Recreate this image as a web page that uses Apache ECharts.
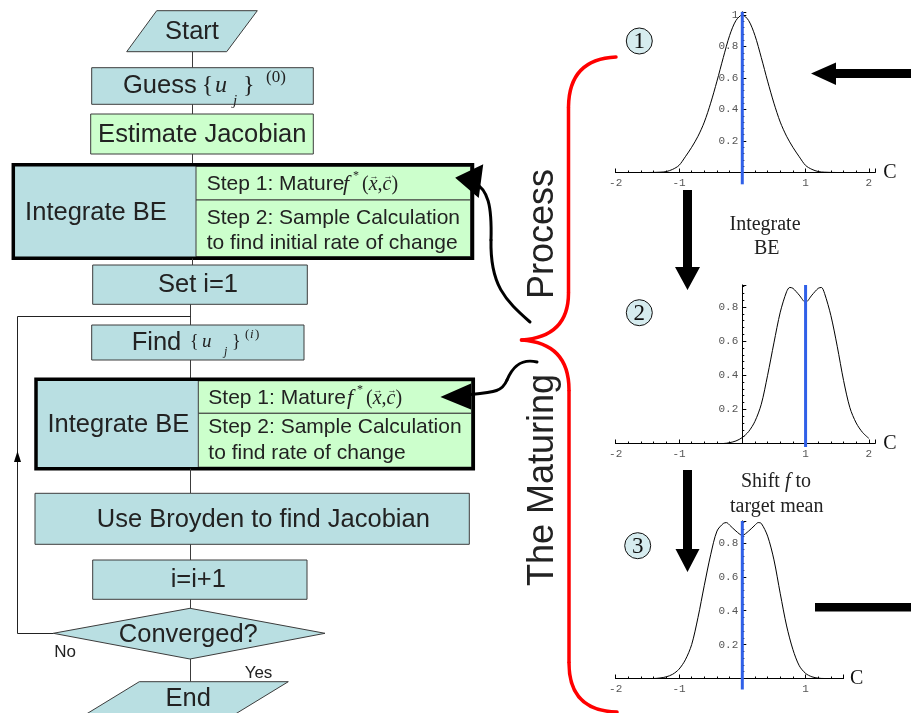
<!DOCTYPE html>
<html><head><meta charset="utf-8">
<script src="https://cdn.jsdelivr.net/npm/echarts@6/dist/echarts.min.js"></script>
<style>html,body{margin:0;padding:0;background:#fff}#c{width:911px;height:713px}</style>
</head><body><div id="c"></div>
<script>
// ---------- data: the three density snapshots ----------
const c1 = [-2.1,-1.5,-1.3,-1.2,-1.1,-1.0,-0.9,-0.8,-0.7,-0.6,-0.5,-0.4,-0.3,-0.2,-0.1,0,0.1,0.2,0.3,0.4,0.5,0.6,0.7,0.8,0.9,1.0,1.1,1.2,1.3,1.5,2.1];
const f1 = [0,0,0.002,0.006,0.02,0.045,0.10,0.16,0.23,0.32,0.44,0.58,0.73,0.87,0.965,1.0,0.965,0.87,0.73,0.58,0.44,0.32,0.23,0.16,0.10,0.045,0.02,0.006,0.002,0,0];
const c2 = [-2.1,-1.0,-0.3,-0.2,-0.1,0,0.1,0.2,0.3,0.4,0.5,0.6,0.7,0.75,0.8,0.9,1.0,1.1,1.2,1.25,1.3,1.4,1.5,1.6,1.7,1.8,1.9,2.0];
const f2 = [0,0,0,0.005,0.015,0.035,0.07,0.13,0.23,0.40,0.59,0.77,0.89,0.915,0.91,0.87,0.828,0.87,0.91,0.915,0.88,0.75,0.57,0.37,0.21,0.12,0.065,0.03];
const c3 = [-2.1,-1.4,-1.3,-1.2,-1.1,-1.0,-0.9,-0.8,-0.7,-0.6,-0.5,-0.4,-0.3,-0.25,-0.2,-0.1,0,0.1,0.2,0.25,0.3,0.4,0.5,0.6,0.7,0.8,0.9,1.0,1.1,1.2,1.3,1.6];
const f3 = [0,0,0.003,0.01,0.025,0.055,0.11,0.2,0.36,0.55,0.73,0.87,0.915,0.92,0.905,0.87,0.845,0.87,0.905,0.92,0.915,0.84,0.70,0.50,0.31,0.17,0.075,0.03,0.01,0.002,0,0];
const means = [0, 1, 0];
const meanLineLo = [-0.075, -0.02, -0.065];
const meanLineHi = [1.02, 0.93, 0.93];
const yMaxes = [1.02, 0.93, 0.93];
const xMin = -2;
const xMaxes = [2.1, 2.1, 1.6];
const axisName = 'C';

// ---------- text content ----------
const flowLabels = ['Start','Guess','Estimate Jacobian','Integrate BE','Set i=1','Find','Use Broyden to find Jacobian','i=i+1','Converged?','End'];
const stepTexts1 = ['Step 1: Mature','Step 2: Sample Calculation','to find initial rate of change'];
const stepTexts2 = ['Step 1: Mature','Step 2: Sample Calculation','to find rate of change'];
const branchLabels = ['No','Yes'];
const stageNumbers = ['1','2','3'];
const stageNotes = ['Integrate','BE','Shift','f','to','target mean'];
const sideTitle = ['The Maturing','Process'];

const sans = "'Liberation Sans', Arial, sans-serif";
const serif = "'Liberation Serif', 'Times New Roman', serif";
const mono = "'Liberation Mono', 'Courier New', monospace";
const TEAL = '#b9dfe2', GREEN = '#ccffcc', EDGE = '#3c3c3c', INK = '#222';

const mctx = document.createElement('canvas').getContext('2d');
function W(t, font){ mctx.font = font; return mctx.measureText(t).width; }

function T(x, y, text, font, o){ o = o || {}; const a = o.align || 'center';
  return {type:'text', x:x, y:y, rotation:o.rot||0, style:{text:text, font:font, fill:o.fill||INK,
    align:a, textAlign:a, verticalAlign:'middle', textVerticalAlign:'middle'}}; }
function R(x,y,w,h,fill,stroke,lw){ return {type:'rect', shape:{x:x,y:y,width:w,height:h},
    style:{fill:fill||'none', stroke:stroke||'none', lineWidth:lw||1}}; }
function P(pts, fill, stroke, lw){ return {type:'polygon', shape:{points:pts},
    style:{fill:fill||'none', stroke:stroke||'none', lineWidth:lw||1}}; }
function L(x1,y1,x2,y2,color,lw){ return {type:'line', shape:{x1:x1,y1:y1,x2:x2,y2:y2},
    style:{stroke:color||EDGE, lineWidth:lw||1}}; }
function Bz(x1,y1,cx1,cy1,cx2,cy2,x2,y2,color,lw){ const s={x1:x1,y1:y1,x2:x2,y2:y2,cpx1:cx1,cpy1:cy1};
  if (cx2 !== null) { s.cpx2 = cx2; s.cpy2 = cy2; }
  return {type:'bezierCurve', shape:s, style:{fill:'none', stroke:color, lineWidth:lw, lineCap:'round'}}; }

const g = [];
const F25 = '25.5px ' + sans, F21 = '21px ' + sans;

// Start
g.push(P([[156.7,10.7],[257.3,10.7],[226.7,51.7],[126.7,51.7]], TEAL, EDGE, 1));
g.push(T(192, 32, flowLabels[0], F25));
g.push(L(192.5,51.7,192.5,67.7));
// Guess
g.push(R(91.7,67.7,221.6,36.6,TEAL,EDGE,1));
g.push(T(123, 86, flowLabels[1], F25, {align:'left'}));
g.push(T(201.7, 86, '{', '24px '+serif, {align:'left'}));
g.push(T(215, 86, 'u', 'italic 24px '+serif, {align:'left'}));
g.push(T(233, 101, 'j', 'italic 15px '+serif, {align:'left'}));
g.push(T(243, 86, '}', '24px '+serif, {align:'left'}));
g.push(T(266, 78, '(0)', '17px '+serif, {align:'left'}));
g.push(L(192.5,104.3,192.5,114));
// Estimate Jacobian
g.push(R(90.7,114,222.6,40,GREEN,EDGE,1));
g.push(T(202.3, 134.5, flowLabels[2], F25));
g.push(L(192.5,154,192.5,164));

function mathF(x, y){ // f*(x,c) with vector arrows
  g.push(T(x, y, 'f', 'italic 22px '+serif, {align:'left'}));
  g.push(T(x+10, y-8, '*', '12px '+serif, {align:'left'}));
  let cx = x + 19;
  const parts = [['(',false],['x',true],[',',false],['c',true],[')',false]];
  parts.forEach(p => { const f = (p[1]?'italic ':'') + '20px ' + serif; const w = W(p[0], f);
    g.push(T(cx, y, p[0], f, {align:'left'}));
    if (p[0]==='x' || p[0]==='c') g.push(T(cx + w/2 + 1, y-8, '\u2192', '9px '+sans, {}));
    cx += w; });
}
function integrateBox(o){
  g.push(R(o.x, o.y, o.w, o.h, TEAL, 'none', 1));
  g.push(R(o.div, o.y+1.5, o.right-o.div, o.mid-o.y-1.5, GREEN, EDGE, 1));
  g.push(R(o.div, o.mid, o.right-o.div, o.y+o.h-o.mid-1.5, GREEN, EDGE, 1));
  g.push(R(o.x, o.y, o.w, o.h, 'none', '#000', 3.5));
  g.push(T(o.lx, o.ly, flowLabels[3], F25));
  g.push(T(o.tx, o.s1, o.texts[0], F21, {align:'left'}));
  g.push(T(o.tx, o.s2, o.texts[1], F21, {align:'left'}));
  g.push(T(o.tx, o.s3, o.texts[2], F21, {align:'left'}));
  mathF(o.fx, o.s1);
}
integrateBox({x:13.3,y:164.7,w:459.2,h:93.6,div:196,right:470.5,mid:200,lx:96,ly:213.3,tx:206.7,s1:184.3,s2:218.3,s3:243.3,fx:343,texts:stepTexts1});
g.push(L(192.5,258.5,192.5,265));
// Set i=1
g.push(R(92.7,265,214.6,39.3,TEAL,EDGE,1));
g.push(T(198, 285, flowLabels[4], F25));
g.push(L(190.5,304.3,190.5,325));
// loop back line
g.push(L(17.5,316.5,190.5,316.5,'#222',1));
g.push(L(17.5,316.5,17.5,633.5,'#222',1));
g.push(P([[17.5,451],[14,462],[21,462]], '#000', 'none', 1));
// Find
g.push(R(91.7,325,212.3,35,TEAL,EDGE,1));
g.push(T(131.7, 343.3, flowLabels[5], F25, {align:'left'}));
g.push(T(190, 342, '{', '18px '+serif, {align:'left'}));
g.push(T(202, 342, 'u', 'italic 19px '+serif, {align:'left'}));
g.push(T(224, 352, 'j', 'italic 12px '+serif, {align:'left'}));
g.push(T(232, 342, '}', '18px '+serif, {align:'left'}));
g.push(T(245, 335, '(', '13px '+serif, {align:'left'}));
g.push(T(250, 335, 'i', 'italic 13px '+serif, {align:'left'}));
g.push(T(255, 335, ')', '13px '+serif, {align:'left'}));
g.push(L(190.5,360,190.5,379));
integrateBox({x:36,y:379.3,w:437.3,h:89.4,div:198.3,right:471.7,mid:413.3,lx:118.3,ly:425,tx:208.3,s1:398.3,s2:427.7,s3:453.3,fx:347,texts:stepTexts2});
g.push(L(190.5,468.7,190.5,493.3));
// Broyden
g.push(R(35,493.3,434.3,51,TEAL,EDGE,1));
g.push(T(263.3, 520, flowLabels[6], F25));
g.push(L(190.5,544.3,190.5,560));
// i=i+1
g.push(R(92.7,560,214.3,39.3,TEAL,EDGE,1));
g.push(T(198.3, 580, flowLabels[7], F25));
g.push(L(190.5,599.3,190.5,608.3));
// Converged
g.push(P([[53.3,633.3],[190,608.3],[325,633.3],[190,659]], TEAL, EDGE, 1));
g.push(T(188.3, 635, flowLabels[8], F25));
g.push(L(17.5,633.5,53.3,633.5,'#222',1));
g.push(T(65, 652, branchLabels[0], '17px '+sans));
g.push(T(258.5, 673, branchLabels[1], '17px '+sans));
g.push(L(190.5,659,190.5,681.7));
// End
g.push(P([[139.3,681.7],[288.3,681.7],[222.3,722],[73.3,722]], TEAL, EDGE, 1));
g.push(T(188.3, 698.5, flowLabels[9], F25));

// ---------- right side annotations ----------
const circ = [[639.3,41],[639.3,312.7],[637.7,545.7]];
circ.forEach((p,i) => {
  g.push({type:'circle', shape:{cx:p[0], cy:p[1], r:13}, style:{fill:'#d6ecef', stroke:'#111', lineWidth:1}});
  g.push(T(p[0], p[1]+1, stageNumbers[i], '23px '+serif, {fill:'#111'}));
});
g.push(T(765, 225, stageNotes[0], '20px '+serif));
g.push(T(766.7, 248.5, stageNotes[1], '20px '+serif));
(function(){ const F = '20px '+serif, FI = 'italic 20px '+serif;
  const a = W(stageNotes[2]+' ', F), b = W(stageNotes[3], FI), c = W(' '+stageNotes[4], F);
  let x = 776 - (a+b+c)/2;
  g.push(T(x, 482, stageNotes[2]+' ', F, {align:'left'}));
  g.push(T(x+a, 482, stageNotes[3], FI, {align:'left'}));
  g.push(T(x+a+b, 482, ' '+stageNotes[4], F, {align:'left'}));
})();
g.push(T(776.7, 506.7, stageNotes[5], '20px '+serif));

// block arrows
g.push(P([[811,73.5],[836,62.5],[836,69],[911,69],[911,78],[836,78],[836,85]], '#000'));
g.push(R(815,603,96,8.5,'#000'));
g.push(P([[683,190],[692,190],[692,267],[700,267],[687.5,290],[675,267],[683,267]], '#000'));
g.push(P([[683,470],[692,470],[692,549],[699.5,549],[687.5,572],[675.5,549],[683,549]], '#000'));

// red brace
const RED = '#ff0000';
g.push(Bz(616,57,569,59,null,null,568.5,107,RED,3.5));
g.push(L(568.5,107,568.5,293,RED,3.5));
g.push(Bz(568.5,293,568.5,337,null,null,521.5,340,RED,3.5));
g.push(Bz(521.5,340,569,343,null,null,569,390,RED,3.5));
g.push(L(569,390,569,663,RED,3.5));
g.push(Bz(569,663,569,711,null,null,617,712,RED,3.5));

// curvy black arrows
g.push(Bz(530,322,505,300,490,285,491,240,'#000',3));
g.push(Bz(491,240,492,205,488,190,474,182,'#000',3));
g.push(P([[457,178],[482,166],[478,196]], '#000', '#000', 2));
g.push(Bz(537,362,520,358,512,368,507,380,'#000',3));
g.push(Bz(507,380,502,392,495,392,466,395,'#000',3));
g.push(P([[443,397],[470,385],[470,408]], '#000', '#000', 2));

// rotated side title
g.push(T(543, 480, sideTitle[0], '36px '+sans, {rot:Math.PI/2}));
g.push(T(543, 234, sideTitle[1], '36px '+sans, {rot:Math.PI/2}));

// ---------- plots ----------
const PX = 63.3; // pixels per unit of C
const grids = [
  {left:615.7, top:11.85, width:259.5, height:160.65},
  {left:615.7, top:284.9, width:259.5, height:158.6},
  {left:615.7, top:520.9, width:227.9, height:157.6}
];
const nameGaps = [8, 8, 6.5];
const xAxes = grids.map((gr,i) => ({
  gridIndex:i, type:'value', min:xMin, max:xMaxes[i], interval:1,
  axisLine:{onZero:true, lineStyle:{color:'#000', width:1}},
  axisTick:{inside:true, length:4, lineStyle:{color:'#000'}},
  minorTick:{show:true, splitNumber:5, length:2, lineStyle:{color:'#000'}},
  splitLine:{show:false}, minorSplitLine:{show:false},
  axisLabel:{formatter:v => (Math.abs(v-Math.round(v))<1e-6 && Math.round(v)!==0) ? String(Math.round(v)) : '',
    fontFamily:mono, fontSize:11, color:'#555', margin:5},
  name:axisName, nameLocation:'end', nameGap:nameGaps[i],
  nameTextStyle:{fontFamily:serif, fontSize:20, color:'#111', align:'left', verticalAlign:'middle'}
}));
const yAxes = grids.map((gr,i) => ({
  gridIndex:i, type:'value', min:0, max:yMaxes[i], interval:0.2,
  position:'left', offset:xMin*PX,
  axisLine:{onZero:false, lineStyle:{color:'#000', width:1}},
  axisTick:{inside:true, length:4, lineStyle:{color:'#000'}},
  minorTick:{show:true, splitNumber:5, length:2, lineStyle:{color:'#000'}},
  splitLine:{show:false}, minorSplitLine:{show:false},
  axisLabel:{formatter:v => { const k = v*5; return (Math.abs(k-Math.round(k))<1e-6 && Math.round(k)!==0) ? String(+(Math.round(k)/5).toFixed(1)) : ''; },
    fontFamily:mono, fontSize:11, color:'#555', margin:4}
}));
const curves = [[c1,f1],[c2,f2],[c3,f3]];
const series = [];
curves.forEach((cv,i) => {
  series.push({type:'line', xAxisIndex:i, yAxisIndex:i, data:cv[0].map((x,j)=>[x, cv[1][j]]),
    smooth:0.3, symbol:'none', clip:false, lineStyle:{color:'#000', width:1}, z:3});
  series.push({type:'line', xAxisIndex:i, yAxisIndex:i, data:[[means[i], meanLineLo[i]],[means[i], meanLineHi[i]]],
    symbol:'none', clip:false, lineStyle:{color:'#3060e8', width:3}, z:4});
});

const chart = echarts.init(document.getElementById('c'), null, {renderer:'canvas', width:911, height:713});
chart.setOption({
  backgroundColor:'#fff', animation:false,
  grid:grids, xAxis:xAxes, yAxis:yAxes, series:series,
  graphic:{elements:g}
});
</script>
</body></html>
